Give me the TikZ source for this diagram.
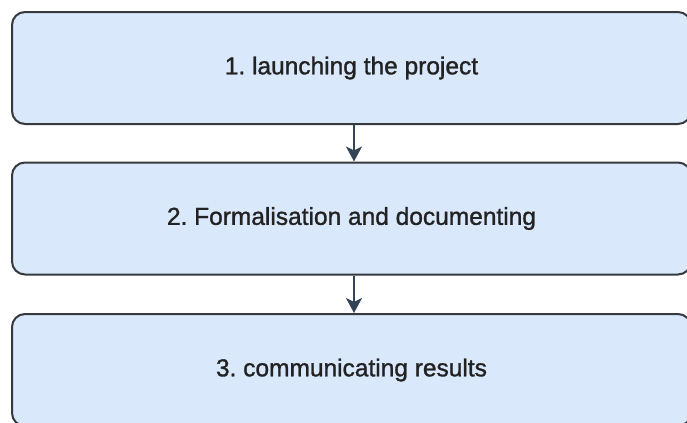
\documentclass[tikz,border=0pt]{standalone}
\usepackage{fontspec}
\setmainfont{Liberation Sans}
\newfontfamily\stagefont[FakeBold=1.2]{Liberation Sans}
\usepackage{tikz}
\usetikzlibrary{calc,arrows.meta,positioning}
\definecolor{mylightblue}{RGB}{218,232,252}
\definecolor{myedge}{RGB}{54,57,61}
\definecolor{myarrow}{RGB}{49,67,84}
\definecolor{mytext}{RGB}{34,34,34}
\frenchspacing
\tikzstyle{stagebox}=[draw=myedge,fill=mylightblue,rounded corners=6.5pt,line width=1pt,minimum width=339.5pt,minimum height=56pt,inner sep=0pt,text=mytext,font=\stagefont\fontsize{12.25}{14}\selectfont]
\tikzstyle{flow}=[draw=myarrow,line width=0.8pt,-{Stealth[length=7.5pt,width=8pt,inset=2pt]}]

\begin{document}
\begin{tikzpicture}[x=0.5pt,y=-0.5pt]
\useasboundingbox (0,0) rectangle (687,423);
\clip (0,0) rectangle (687,423);
\draw (351.5, 68) node [stagebox] (s1) {1. launching the project};
\draw (351.5, 218.5) node [stagebox] (s2) {2. Formalisation and documenting};
\draw (351.5, 370) node [stagebox] (s3) {3. communicating results};
\draw[flow] ($(s1.south)+(2.5,0)$) -- ($(s2.north)+(2.5,0)$);
\draw[flow] ($(s2.south)+(2.5,0)$) -- ($(s3.north)+(2.5,0)$);
\end{tikzpicture}
\end{document}
